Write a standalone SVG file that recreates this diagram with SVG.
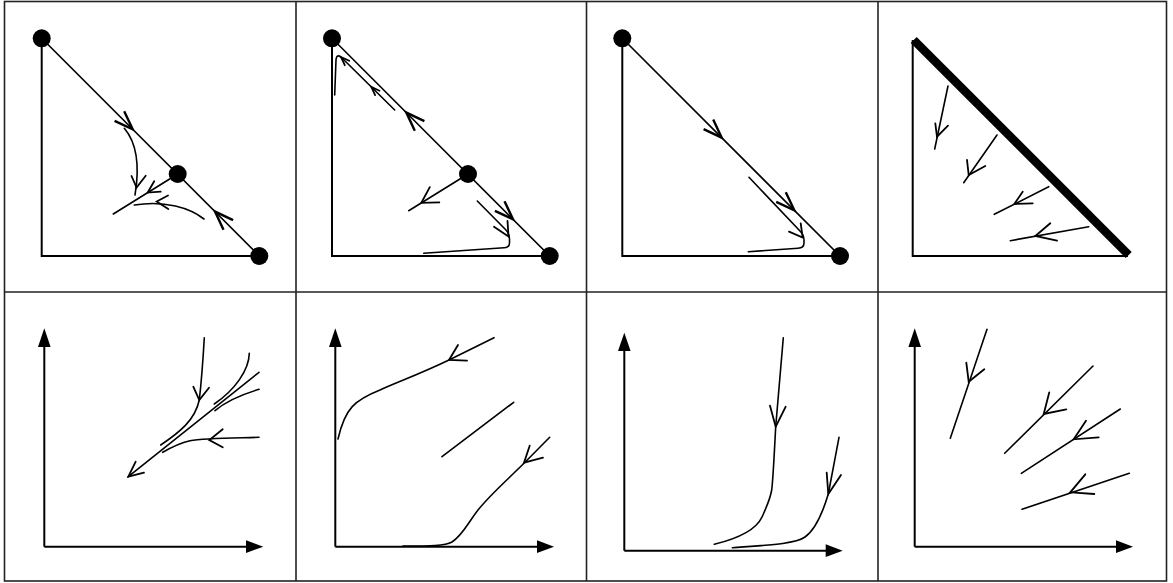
<svg xmlns="http://www.w3.org/2000/svg" width="1173" height="583" viewBox="0 0 1173 583">
<style>
.grid{fill:none;stroke:#222;stroke-width:1.6}
.ax{fill:none;stroke:#000;stroke-width:2}
.ln{fill:none;stroke:#000;stroke-width:1.6;stroke-linecap:round;stroke-linejoin:round}
.ch{fill:none;stroke:#000;stroke-width:1.8;stroke-linecap:round;stroke-linejoin:miter}
.bch{fill:none;stroke:#000;stroke-width:2.4;stroke-linecap:butt;stroke-linejoin:miter}
.nd{fill:#000}
.tri{fill:#000}
</style>
<rect width="1173" height="583" fill="#fff"/>
<g id="grid">
<rect class="grid" x="4.5" y="1.5" width="1162" height="579.5"/>
<line class="grid" x1="296" y1="1.5" x2="296" y2="581"/>
<line class="grid" x1="586.5" y1="1.5" x2="586.5" y2="581"/>
<line class="grid" x1="878" y1="1.5" x2="878" y2="581"/>
<line class="grid" x1="4.5" y1="292" x2="1166.5" y2="292"/>
</g>

<g id="panel1">
<g id="connectors1">
<polyline class="ax" points="41.7,38.3 41.7,256 259.3,256"/>
<line class="ln" x1="41.7" y1="38.3" x2="259.3" y2="256"/>
<polyline class="bch" points="114.6,120.8 132.7,129.3 124.2,111.2"/>
<polyline class="bch" points="233.1,220.1 215,211.6 223.5,229.7"/>
<path class="ln" d="M124.3,128.3 C136,142 140,165 135,195"/>
<polyline class="ch" points="131.5,176 136.6,187.5 145.7,175.7"/>
<line class="ln" x1="177.7" y1="174" x2="113.3" y2="214"/>
<polyline class="ch" points="154.2,181.3 147.7,192.6 160.7,191.7"/>
<path class="ln" d="M204,219 C190,208 165,200 134.3,205"/>
<polyline class="ch" points="168,195.5 156.7,201.5 168.3,209"/>
</g>
<g id="p1-node-a"><circle class="nd" cx="41.7" cy="38.3" r="9"/></g>
<g id="p1-node-b"><circle class="nd" cx="177.7" cy="174" r="9"/></g>
<g id="p1-node-c"><circle class="nd" cx="259.3" cy="256" r="9"/></g>
</g>

<g id="panel2">
<g id="connectors2">
<polyline class="ax" points="332,38.3 332,256 549.7,256"/>
<line class="ln" x1="332" y1="38.3" x2="549.7" y2="256"/>
<polyline class="bch" points="424.4,121.1 406.3,112.6 414.8,130.7"/>
<polyline class="bch" points="494.9,210.8 513,219.3 504.5,201.2"/>
<path class="ln" d="M394.7,110 L342,58 Q336.5,53 336,60 L334.7,95"/>
<polyline class="ch" points="379.5,90.7 371.3,86.9 375.1,95.1"/>
<polyline class="ch" points="349.2,60.8 341,57 344.8,65.2"/>
<line class="ln" x1="468" y1="174" x2="408.7" y2="210.7"/>
<polyline class="ch" points="429.8,187.1 421.3,202.9 439.3,202.4"/>
<path class="ln" d="M477.3,201 L505.5,229.5 Q509.5,233.5 509.5,239 L509.5,243 Q509.5,247.5 504,247.8 L423.7,253.3"/>
<polyline class="ch" points="494,226.7 508.5,236.5 507.5,221"/>
</g>
<g id="p2-node-a"><circle class="nd" cx="332" cy="38.3" r="9"/></g>
<g id="p2-node-b"><circle class="nd" cx="468" cy="174" r="9"/></g>
<g id="p2-node-c"><circle class="nd" cx="549.7" cy="256" r="9"/></g>
</g>

<g id="panel3">
<g id="connectors3">
<polyline class="ax" points="622.3,38.3 622.3,256 840,256"/>
<line class="ln" x1="622.3" y1="38.3" x2="840" y2="256"/>
<polyline class="bch" points="703.6,129.2 721.7,137.7 713.2,119.6"/>
<polyline class="bch" points="776.2,201.8 794.3,210.3 785.8,192.2"/>
<path class="ln" d="M749,177.3 L800,231 Q804,235 804,240 L804,243 Q804,248 798,248.3 L748.3,251.7"/>
<polyline class="ch" points="789,231.7 802.7,237.5 800.7,223.3"/>
</g>
<g id="p3-node-a"><circle class="nd" cx="622.3" cy="38.3" r="9"/></g>
<g id="p3-node-c"><circle class="nd" cx="840" cy="256" r="9"/></g>
</g>

<g id="panel4">
<polyline class="ax" points="912.7,40 912.7,256 1128,256"/>
<line x1="913.7" y1="40" x2="1128.7" y2="255" stroke="#000" stroke-width="8.5"/>
<line class="ln" x1="948" y1="86" x2="934.7" y2="149"/>
<polyline class="ch" points="935.3,123.3 937,136.7 948,125.7"/>
<line class="ln" x1="997" y1="135" x2="963.7" y2="182.7"/>
<polyline class="ch" points="967,160 968.7,175 985.3,166"/>
<line class="ln" x1="1048.7" y1="186.7" x2="994.3" y2="214.3"/>
<polyline class="ch" points="1022.7,191.7 1014.3,204 1032.7,203.3"/>
<line class="ln" x1="1088.7" y1="226.7" x2="1010.3" y2="240.7"/>
<polyline class="ch" points="1050.3,223.3 1035.3,236 1057,240.7"/>
</g>

<g id="panel5">
<line class="ax" x1="44.3" y1="546.7" x2="44.3" y2="345"/>
<polygon class="tri" points="44.3,328.3 38,347 50.6,347"/>
<line class="ax" x1="44.3" y1="546.7" x2="248" y2="546.7"/>
<polygon class="tri" points="263.3,546.7 246,540.3 246,553"/>
<line class="ln" x1="259" y1="372.3" x2="128.3" y2="476.7"/>
<polyline class="ch" points="135.7,461.7 128.3,476.7 144,472.7"/>
<path class="ln" d="M204.3,337.7 C203,360 201,385 199.3,400 C195,420 180,432 160.7,445"/>
<polyline class="ch" points="193.3,386.7 199.3,400 209,387.7"/>
<path class="ln" d="M249.3,353.3 C249,370 235,390 214.3,404"/>
<path class="ln" d="M259,389.3 C240,395 225,402 215,410.7"/>
<path class="ln" d="M259,437.3 C240,438 205,438 190,440.7 C180,443 170,448 162.7,452.3"/>
<polyline class="ch" points="222.7,429.3 209.3,440 222.7,447.3"/>
</g>

<g id="panel6">
<line class="ax" x1="335.3" y1="546.7" x2="335.3" y2="345"/>
<polygon class="tri" points="335.3,328.3 329,347 341.6,347"/>
<line class="ax" x1="335.3" y1="546.7" x2="538" y2="546.7"/>
<polygon class="tri" points="554,546.7 537,540.3 537,553"/>
<path class="ln" d="M494,337.7 L449,360 C420,374 395,383 380,390 C355,400 345,408 338,439"/>
<polyline class="ch" points="458,345 449,360 467,360.7"/>
<line class="ln" x1="513.7" y1="402.3" x2="442" y2="456.7"/>
<path class="ln" d="M549.7,437.3 L524,463.3 C505,482 490,495 478,510 C468,523 462,536 452,542 C445,546 430,546 403,546"/>
<polyline class="ch" points="529.7,445.7 524,462.7 543,457.7"/>
</g>

<g id="panel7">
<line class="ax" x1="624.3" y1="550.7" x2="624.3" y2="349"/>
<polygon class="tri" points="624.3,332.7 618,351 630.6,351"/>
<line class="ax" x1="624.3" y1="550.7" x2="827" y2="550.7"/>
<polygon class="tri" points="842.7,550.7 825.7,544.3 825.7,557"/>
<path class="ln" d="M783.3,337.7 L775.7,426.7 C774,460 773,480 771.7,490 C770,500 766,508 762,517 C756,530 740,538 714.3,544.3"/>
<polyline class="ch" points="770,405.7 775.7,426.7 785.7,406.7"/>
<path class="ln" d="M839,437.3 L828.3,494 C822,515 815,530 805,537 C795,544 770,545 732.3,547.7"/>
<polyline class="ch" points="826.7,472.7 828.3,494 841,475"/>
</g>

<g id="panel8">
<line class="ax" x1="914.7" y1="546.7" x2="914.7" y2="345"/>
<polygon class="tri" points="914.7,328.3 908.4,347 921,347"/>
<line class="ax" x1="914.7" y1="546.7" x2="1117" y2="546.7"/>
<polygon class="tri" points="1133,546.7 1116,540.3 1116,553"/>
<line class="ln" x1="987" y1="329.3" x2="950.3" y2="438.3"/>
<polyline class="ch" points="966.3,362.7 968.7,381.7 984.3,369.3"/>
<line class="ln" x1="1093" y1="366" x2="1004.7" y2="453.3"/>
<polyline class="ch" points="1049.3,392.3 1043.7,414 1066.3,409.3"/>
<line class="ln" x1="1120.3" y1="409" x2="1021.3" y2="473.3"/>
<polyline class="ch" points="1086,420.7 1073.7,439.3 1098.7,437.3"/>
<line class="ln" x1="1129.3" y1="473.3" x2="1022" y2="509.3"/>
<polyline class="ch" points="1085.3,474.3 1070.3,492.3 1094.3,494"/>
</g>
</svg>
